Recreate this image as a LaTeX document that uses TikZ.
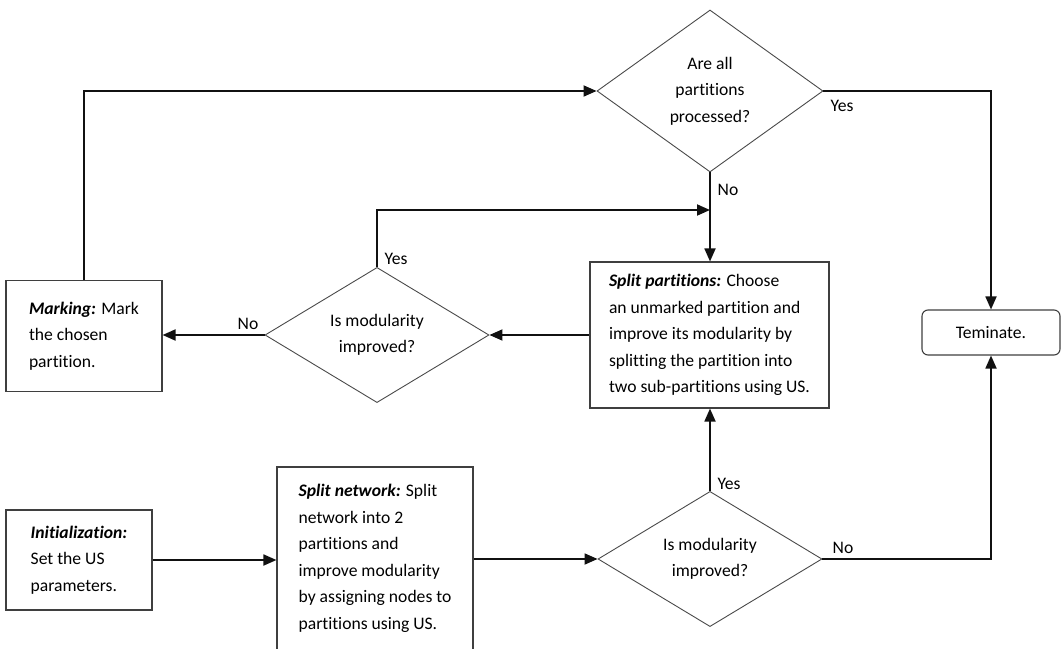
\documentclass[tikz,border=0pt]{standalone}
\usepackage{fontspec}
\setmainfont[Ligatures=NoCommon]{Carlito}
\usetikzlibrary{shapes.geometric,arrows.meta}
\definecolor{boxc}{HTML}{3F3F3F}
\definecolor{dia}{HTML}{4A4A4A}
\definecolor{lc}{HTML}{111111}
\begin{document}
\begin{tikzpicture}[x=1pt,y=-1pt,
  txt/.style={font=\fontsize{17.6}{26.5}\selectfont, text=black},
  box/.style={txt, draw=boxc, line width=1.1pt, rectangle, inner sep=0pt, align=left},
  dec/.style={txt, draw=dia, line width=0.9pt, diamond, inner sep=0pt, align=center},
  conn/.style={draw=lc, line width=1.8pt},
  arr/.style={conn, -{Triangle[length=13pt,width=11pt]}},
  lbl/.style={txt, inner sep=0pt},
]
\useasboundingbox (0,0) rectangle (1063,648);
\clip (0,0) rectangle (1063,648);
\fill[white] (0,0) rectangle (1063,648);

% decisions
\node[dec, minimum width=226pt, minimum height=162pt] (top) at (710,91)
  {Are all\\partitions\\processed?};
\node[dec, minimum width=224pt, minimum height=124pt] (mid) at (377,335)
  {Is modularity\\improved?};
\node[dec, minimum width=224pt, minimum height=122pt] (bot) at (710,559)
  {Is modularity\\improved?};

% boxes
\node[box, minimum width=156pt, minimum height=111pt] (mark) at (84,336)
  {\textbf{\textit{Marking:}} Mark\\the chosen\\partition.};
\node[box, minimum width=239pt, minimum height=146pt] (sp) at (709.5,335)
  {\textbf{\textit{Split partitions:}} Choose\\an unmarked partition and\\improve its modularity by\\splitting the partition into\\two sub-partitions using US.};
\node[box, rounded corners=6pt, minimum width=138pt, minimum height=45pt] (term) at (991,332.5)
  {Teminate.};
\node[box, minimum width=146pt, minimum height=100pt] (init) at (79,560)
  {\textbf{\textit{Initialization:}}\\Set the US\\parameters.};
\node[box, minimum width=196pt, minimum height=183pt] (sn) at (375,558.5)
  {\textbf{\textit{Split network:}} Split\\network into 2\\partitions and\\improve modularity\\by assigning nodes to\\partitions using US.};

\coordinate (j) at (710,210);

% connectors
\draw[arr] (mark.north) |- (top.west);
\draw[arr] (top.east) -| (term.north);
\draw[arr] (top.south) -- (top.south |- sp.north);
\draw[arr] (sp.west) -- (mid.east);
\draw[arr] (mid.west) -- (mid.west -| mark.east);
\draw[arr] (mid.north) |- (j);
\draw[arr] (init.east) -- (init.east -| sn.west);
\draw[arr] (sn.east |- bot.west) -- (bot.west);
\draw[arr] (bot.north) -- (bot.north |- sp.south);
\draw[arr] (bot.east) -| (term.south);

% labels
\node[lbl] (l1) at (842,106) {Yes};
\node[lbl] (l2) at (728,190) {No};
\node[lbl] (l3) at (396,259) {Yes};
\node[lbl] (l4) at (248,324) {No};
\node[lbl] (l5) at (729,484) {Yes};
\node[lbl] (l6) at (843,548) {No};
\end{tikzpicture}
\end{document}
